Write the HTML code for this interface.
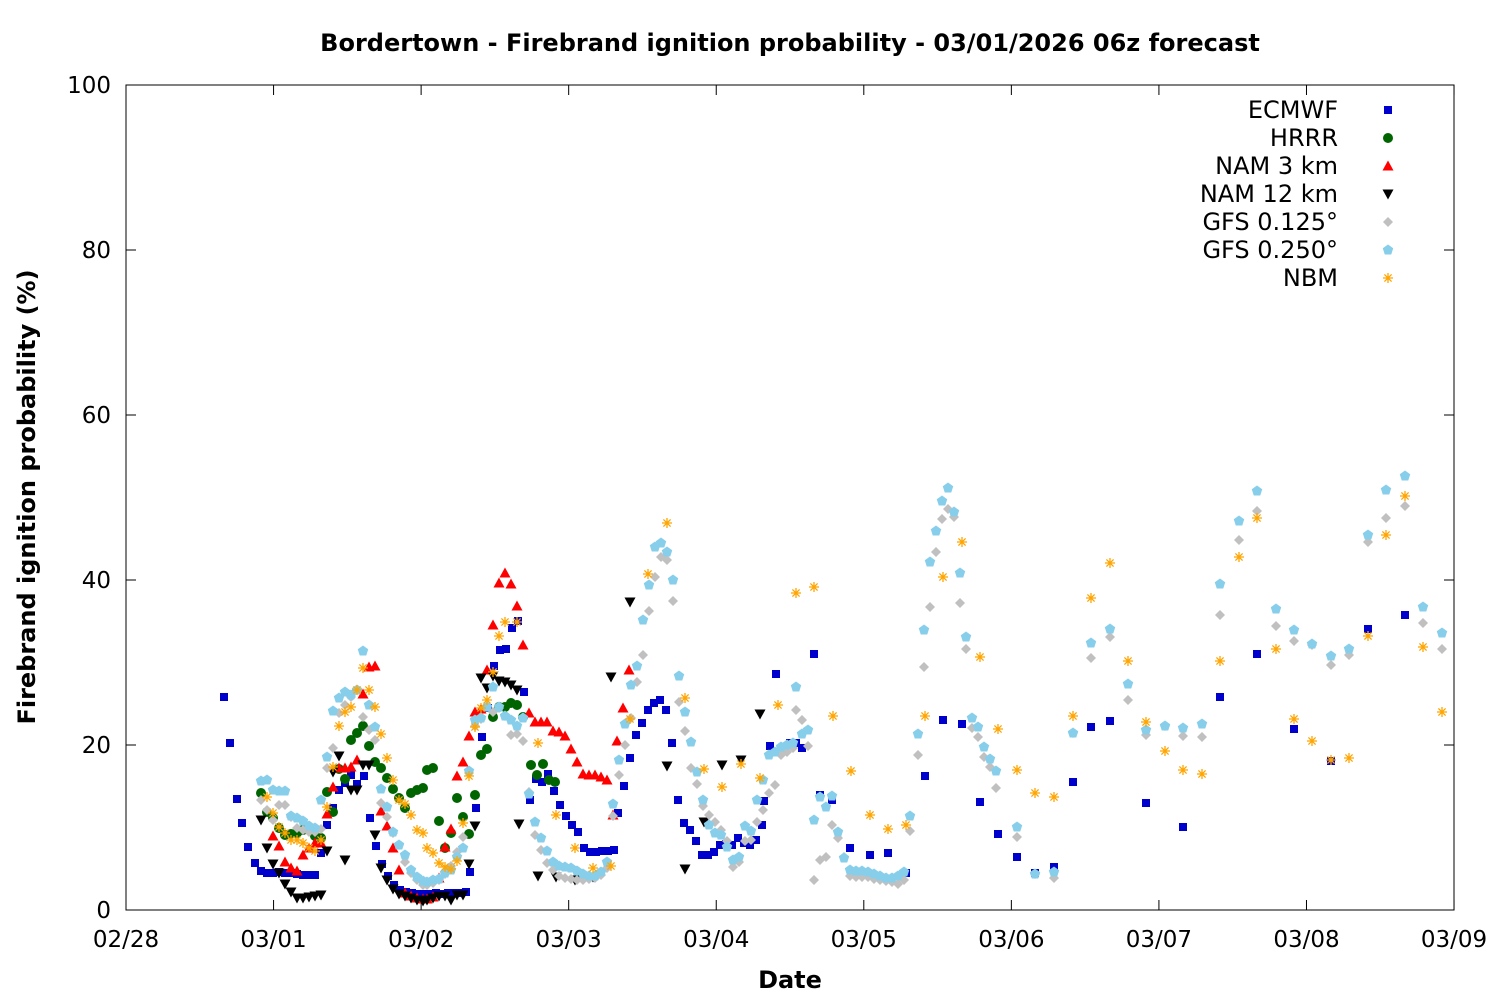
<!DOCTYPE html>
<html><head><meta charset="utf-8"><style>
html,body{margin:0;padding:0;background:#fff}
svg{display:block;font-family:"Liberation Sans","DejaVu Sans",sans-serif}
</style></head><body>
<svg id="s" width="1500" height="1000" xmlns="http://www.w3.org/2000/svg">
<rect width="1500" height="1000" fill="#fff"/>
<text x="790" y="51" text-anchor="middle" font-size="24" font-weight="bold" font-family="DejaVu Sans, sans-serif">Bordertown - Firebrand ignition probability - 03/01/2026 06z forecast</text>
<rect x="126" y="85" width="1328" height="825" fill="none" stroke="#000" stroke-width="1"/>
<g id="ticks" font-size="23" font-family="DejaVu Sans, sans-serif"></g>
<text x="790" y="988" text-anchor="middle" font-size="24" font-weight="bold" font-family="DejaVu Sans, sans-serif">Date</text>
<text transform="translate(35,497) rotate(-90)" text-anchor="middle" font-size="24" font-weight="bold" font-family="DejaVu Sans, sans-serif">Firebrand ignition probability (%)</text>
<g id="pts"></g>
<g id="leg" font-size="24" font-family="DejaVu Sans, sans-serif"></g>
</svg>
<script>
var NS="http://www.w3.org/2000/svg";
function el(p,t,a,txt){var e=document.createElementNS(NS,t);for(var k in a)e.setAttribute(k,a[k]);if(txt!=null)e.textContent=txt;p.appendChild(e);return e;}
var tk=document.getElementById("ticks");
for(var i=0;i<=5;i++){var y=910-i*165;
 el(tk,"line",{x1:126,y1:y,x2:136,y2:y,stroke:"#000"});el(tk,"line",{x1:1454,y1:y,x2:1444,y2:y,stroke:"#000"});
 el(tk,"text",{x:111,y:y+8,"text-anchor":"end"},String(i*20));}
var dl=["02/28","03/01","03/02","03/03","03/04","03/05","03/06","03/07","03/08","03/09"];
for(var i=0;i<10;i++){var x=126+i*147.56;
 el(tk,"line",{x1:x,y1:910,x2:x,y2:900,stroke:"#000"});el(tk,"line",{x1:x,y1:85,x2:x,y2:95,stroke:"#000"});
 el(tk,"text",{x:x,y:947,"text-anchor":"middle"},dl[i]);}
function P(s){var a=s.split(/\s+/).filter(function(q){return q}).map(Number),r=[];for(var i=0;i<a.length;i+=2)r.push([a[i],a[i+1]]);return r;}
var E=P("224 697 230 743 237 799 242 823 248 847 255 863 261 871 267 873 273 873 279 872 285 873 291 873 297 874 303 875 309 875 315 875 321 853 327 825 333 808 339 790 345 783 351 775 357 784 364 776 370 818 376 846 382 864 388 876 394 885 400 890 406 892 412 893 418 894 424 894 430 894 436 893 442 894 448 893 454 893 460 893 466 892 470 872 476 808 482 737 488 708 494 666 500 650 506 649 512 628 518 621 524 692 530 800 536 779 542 782 548 774 554 791 560 805 566 816 572 825 578 832 584 848 590 852 596 852 602 851 608 851 614 850 618 813 624 786 630 758 636 735 642 723 648 710 654 703 660 700 666 710 672 743 678 800 684 823 690 830 696 841 702 855 708 855 714 852 720 845 726 844 732 845 738 838 744 843 750 845 756 840 762 825 764 801 770 746 776 674 782 748 790 743 796 743 802 748 814 654 820 795 832 800 850 848 870 855 888 853 906 873 925 776 943 720 962 724 980 802 998 834 1017 857 1035 873 1054 867 1073 782 1091 727 1110 721 1146 803 1183 827 1220 697 1257 654 1294 729 1331 761 1368 629 1405 615");
var H=P("261 793 267 812 273 818 279 828 285 835 291 834 297 833 303 830 309 828 315 836 321 838 327 792 333 812 339 769 345 779 351 740 357 733 363 726 369 746 375 762 381 768 387 778 393 789 399 798 405 808 411 793 417 790 423 788 427 770 433 768 439 821 445 848 451 833 457 798 463 817 469 834 475 795 481 755 487 749 493 717 499 707 505 707 511 703 517 705 523 717 531 765 537 775 543 764 549 780 555 782");
var N3=P("273 836 279 846 285 862 291 868 297 871 303 855 309 848 315 843 321 843 327 814 333 787 339 768 345 768 351 767 357 760 363 694 369 667 375 666 381 811 387 826 393 848 399 870 405 893 411 896 417 898 423 899 427 899 433 897 439 878 445 847 451 829 457 776 463 762 469 736 475 712 481 709 487 670 493 625 499 583 505 573 511 584 517 606 523 645 529 713 535 722 541 722 547 722 553 731 559 732 565 736 571 749 577 762 583 774 589 775 595 775 601 777 607 780 613 815 617 741 623 708 629 670");
var N12=P("261 820 267 848 273 864 279 873 285 884 291 892 297 898 303 898 309 897 315 896 321 895 327 851 333 772 339 756 345 860 351 790 357 790 363 765 369 765 375 835 381 868 387 880 393 889 399 894 405 896 411 898 417 900 423 901 427 900 433 898 439 896 445 896 451 900 457 895 463 895 469 864 475 826 481 678 487 688 493 676 499 681 505 682 511 685 517 690 519 824 538 876 556 877 575 880 593 877 611 677 630 602 667 766 685 869 704 822 722 765 741 760 760 714");
var G1=P("261 800 267 810 273 820 279 805 285 805 291 817 297 828 303 830 309 832 315 832 321 829 327 768 333 748 339 713 345 705 351 697 357 690 363 717 369 730 375 740 381 803 387 817 393 833 399 845 405 862 411 873 417 880 423 885 427 885 433 883 439 880 445 874 451 866 457 852 463 837 469 773 475 726 481 719 487 707 493 712 499 708 505 716 511 735 517 734 523 741 529 792 535 835 541 850 547 863 553 870 559 876 565 878 571 879 577 880 583 880 589 879 595 878 601 875 607 868 613 816 619 775 625 745 631 718 637 682 643 655 649 611 655 577 661 557 667 560 673 601 679 702 685 731 691 768 697 784 703 806 709 815 715 822 721 830 727 841 733 867 739 862 745 841 751 840 757 822 763 810 769 793 775 785 781 755 787 752 793 748 796 710 802 720 808 746 814 880 820 860 826 857 832 825 838 838 844 857 850 876 856 877 862 877 868 877 874 879 880 880 886 881 892 882 898 884 904 880 910 831 918 755 924 667 930 607 936 552 942 519 948 509 954 517 960 603 966 649 972 728 978 737 984 757 990 767 996 788 1017 837 1035 874 1054 878 1073 733 1091 658 1110 637 1128 700 1146 735 1165 726 1183 736 1202 737 1220 615 1239 540 1257 511 1276 626 1294 641 1312 645 1331 665 1349 655 1368 542 1386 518 1405 506 1423 623 1442 649");
var G2=P("261 781 267 780 273 790 279 791 285 791 291 816 297 818 303 821 309 826 315 828 321 800 327 757 333 711 339 698 345 692 351 695 357 690 363 651 369 705 375 727 381 789 387 807 393 832 399 845 405 855 411 870 417 877 423 881 427 882 433 880 439 879 445 873 451 870 457 857 463 848 469 771 475 720 481 718 487 707 493 687 499 707 505 716 511 720 517 726 523 718 529 794 535 822 541 838 547 851 553 862 559 866 565 867 571 868 577 871 583 874 589 876 595 876 601 872 607 862 613 804 619 760 625 724 631 685 637 666 643 620 649 585 655 547 661 543 667 552 673 580 679 676 685 712 691 742 697 772 703 800 709 825 715 833 721 835 727 847 733 860 739 857 745 826 751 831 757 800 763 780 769 755 775 752 781 747 787 745 793 743 796 687 802 734 808 730 814 820 820 797 826 807 832 796 838 832 844 858 850 870 856 871 862 871 868 872 874 874 880 876 886 878 892 878 898 876 904 872 910 816 918 734 924 630 930 562 936 531 942 501 948 488 954 512 960 573 966 637 972 718 978 727 984 747 990 759 996 771 1017 827 1035 874 1054 872 1073 733 1091 643 1110 629 1128 684 1146 730 1165 726 1183 728 1202 724 1220 584 1239 521 1257 491 1276 609 1294 630 1312 644 1331 656 1349 649 1368 535 1386 490 1405 476 1423 607 1442 633");
var NB=P("267 797 273 813 279 827 285 833 291 840 297 840 303 843 309 848 315 851 321 840 327 807 333 767 339 726 345 712 351 707 357 690 363 668 369 690 375 707 381 734 387 758 393 780 399 800 405 804 411 815 417 830 423 833 427 848 433 853 439 863 445 867 451 869 457 861 463 823 469 776 475 727 481 708 487 700 493 672 499 636 505 622 517 622 538 743 556 815 575 848 593 868 611 866 630 719 648 574 667 523 685 698 704 769 722 787 741 764 760 778 778 705 796 593 814 587 833 716 851 771 870 815 888 829 906 825 925 716 943 577 962 542 980 657 998 729 1017 770 1035 793 1054 797 1073 716 1091 598 1110 563 1128 661 1146 722 1165 751 1183 770 1202 774 1220 661 1239 557 1257 518 1276 649 1294 719 1312 741 1331 760 1349 758 1368 636 1386 535 1405 496 1423 647 1442 712");
var g=document.getElementById("pts");
function mk(p,type,x,y){
 if(type=="sq")el(p,"rect",{x:x-4,y:y-4,width:8,height:8,fill:"#0000cc"});
 else if(type=="ci")el(p,"circle",{cx:x,cy:y,r:5,fill:"#006400"});
 else if(type=="tu")el(p,"polygon",{points:(x-5.5)+","+(y+4.5)+" "+(x+5.5)+","+(y+4.5)+" "+x+","+(y-5.5),fill:"#ff0000"});
 else if(type=="td")el(p,"polygon",{points:(x-5.5)+","+(y-4.5)+" "+(x+5.5)+","+(y-4.5)+" "+x+","+(y+5.5),fill:"#000"});
 else if(type=="di")el(p,"polygon",{points:x+","+(y-5)+" "+(x+5)+","+y+" "+x+","+(y+5)+" "+(x-5)+","+y,fill:"#c0c0c0"});
 else if(type=="pe"){var s="";for(var k=0;k<5;k++){var a=-Math.PI/2+k*2*Math.PI/5;s+=(x+5.5*Math.cos(a))+","+(y+5.5*Math.sin(a))+" ";}el(p,"polygon",{points:s,fill:"#87ceeb"});}
 else if(type=="as"){var d="M"+(x-5)+" "+y+"H"+(x+5)+"M"+x+" "+(y-5)+"V"+(y+5)+"M"+(x-3.6)+" "+(y-3.6)+"L"+(x+3.6)+" "+(y+3.6)+"M"+(x-3.6)+" "+(y+3.6)+"L"+(x+3.6)+" "+(y-3.6);el(p,"path",{d:d,stroke:"#ffa500","stroke-width":1.3,fill:"none"});}
}
var S=[[E,"sq"],[H,"ci"],[N3,"tu"],[N12,"td"],[G1,"di"],[G2,"pe"],[NB,"as"]];
S.forEach(function(s){s[0].forEach(function(p){mk(g,s[1],p[0],p[1]);});});
var lg=document.getElementById("leg");
var names=["ECMWF","HRRR","NAM 3 km","NAM 12 km","GFS 0.125°","GFS 0.250°","NBM"];
for(var i=0;i<7;i++){var y=110+i*28;el(lg,"text",{x:1338,y:y+8,"text-anchor":"end"},names[i]);mk(lg,S[i][1],1388,y);}
</script>
</body></html>
